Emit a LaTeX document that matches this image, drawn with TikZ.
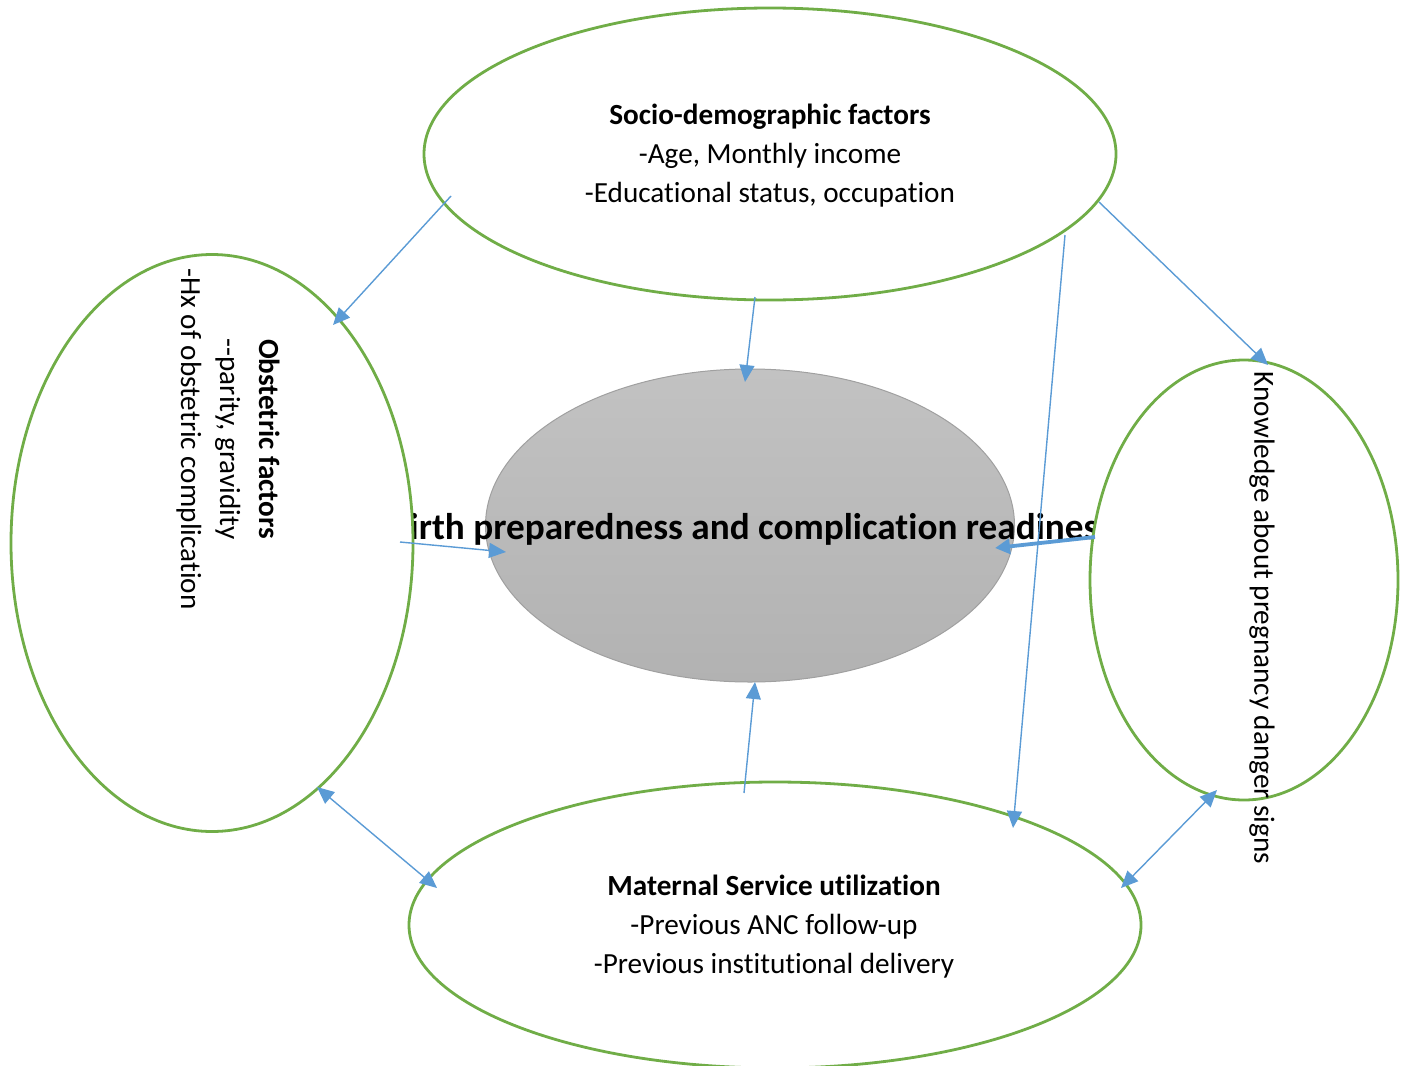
\documentclass[tikz,border=0pt]{standalone}
\usepackage{fontspec}
\setmainfont{Carlito}[Ligatures={CommonOff}]
\usetikzlibrary{arrows.meta,shapes.geometric,calc}
\definecolor{framegreen}{HTML}{70AD47}
\definecolor{linkblue}{HTML}{5B9BD5}
\definecolor{hubtop}{HTML}{C2C2C2}
\definecolor{hubbottom}{HTML}{B2B2B2}
\definecolor{hubedge}{HTML}{A0A0A0}
\begin{document}
\begin{tikzpicture}[x=0.5pt,y=-0.5pt,
  factor/.style={ellipse, draw=framegreen, line width=1.4pt, fill=white, inner sep=0pt},
  hub/.style={ellipse, draw=hubedge, line width=0.5pt, top color=hubtop, bottom color=hubbottom, inner sep=0pt},
  link/.style={draw=linkblue, line width=0.7pt, -{Triangle[length=8.5pt,width=7.5pt]}},
  biglink/.style={draw=linkblue, line width=1.9pt, -{Triangle[length=7.5pt,width=7.5pt]}},
  twoway/.style={draw=linkblue, line width=0.7pt, {Triangle[length=8.5pt,width=7.5pt]}-{Triangle[length=8.5pt,width=7.5pt]}},
  lbl/.style={align=center, inner sep=0pt, font=\fontsize{14.6}{19.5}\selectfont},
  hublbl/.style={inner sep=0pt, font=\fontsize{18.6}{22}\selectfont\bfseries}]

\useasboundingbox (0,0) rectangle (1407,1065);
\clip (0,0) rectangle (1407,1065);

% central outcome
\node[hub, minimum width=264.5pt, minimum height=156.5pt] (ctr) at (750,525.5) {};
\node[hublbl] (ctrtxt) at (751,529) {Birth preparedness and complication readiness};

% surrounding factor groups (white fill hides the overrun of the central title)
\node[factor, minimum width=201pt, minimum height=288.5pt] (obst) at (212,543) {};
\node[factor, minimum width=154pt, minimum height=220pt] (know) at (1244,580) {};
\node[factor, minimum width=346pt, minimum height=146pt] (socio) at (770,154) {};
\node[factor, minimum width=366pt, minimum height=143pt] (serv) at (775,925) {};

% labels
\node[lbl] (sociotxt) at (770,156) {\textbf{Socio-demographic factors}\\-Age, Monthly income\\-Educational status, occupation};
\node[lbl] (servtxt) at (774,927) {\textbf{Maternal Service utilization}\\-Previous ANC follow-up\\-Previous institutional delivery};
\node[lbl, rotate=-90] (obsttxt) at (228,439) {\textbf{Obstetric factors}\\-{}-parity, gravidity\\-Hx of obstetric complication};
\node[lbl, rotate=-90] (knowtxt) at (1262,618) {Knowledge about pregnancy danger signs};

% connector end points, placed relative to their ellipses
\coordinate (s1) at ($(socio)+(-319,42)$);
\coordinate (s2) at ($(socio)+(-15,143)$);
\coordinate (s3) at ($(socio)+(329,48)$);
\coordinate (s4) at ($(socio)+(295,81)$);
\coordinate (o1) at ($(obst)+(121,-218)$);
\coordinate (o2) at ($(obst)+(188,-1)$);
\coordinate (o3) at ($(obst)+(105,244)$);
\coordinate (c1) at ($(ctr)+(-5,-143.5)$);
\coordinate (c2) at ($(ctr)+(-244,26.5)$);
\coordinate (c3) at ($(ctr)+(245,22.5)$);
\coordinate (c4) at ($(ctr)+(5,156.5)$);
\coordinate (k1) at ($(know)+(24,-215)$);
\coordinate (k2) at ($(know)+(-149,-43)$);
\coordinate (k3) at ($(know)+(-27,210)$);
\coordinate (m1) at ($(serv)+(238,-97)$);
\coordinate (m2) at ($(serv)+(-31,-132)$);
\coordinate (m3) at ($(serv)+(-338,-37)$);
\coordinate (m4) at ($(serv)+(346,-37)$);

% connectors
\draw[link] (s1) -- (o1);
\draw[link] (s2) -- (c1);
\draw[link] (s3) -- (k1);
\draw[link] (s4) -- (m1);
\draw[link] (o2) -- (c2);
\draw[biglink] (k2) -- (c3);
\draw[link] (m2) -- (c4);
\draw[twoway] (o3) -- (m3);
\draw[twoway] (k3) -- (m4);
\end{tikzpicture}
\end{document}
